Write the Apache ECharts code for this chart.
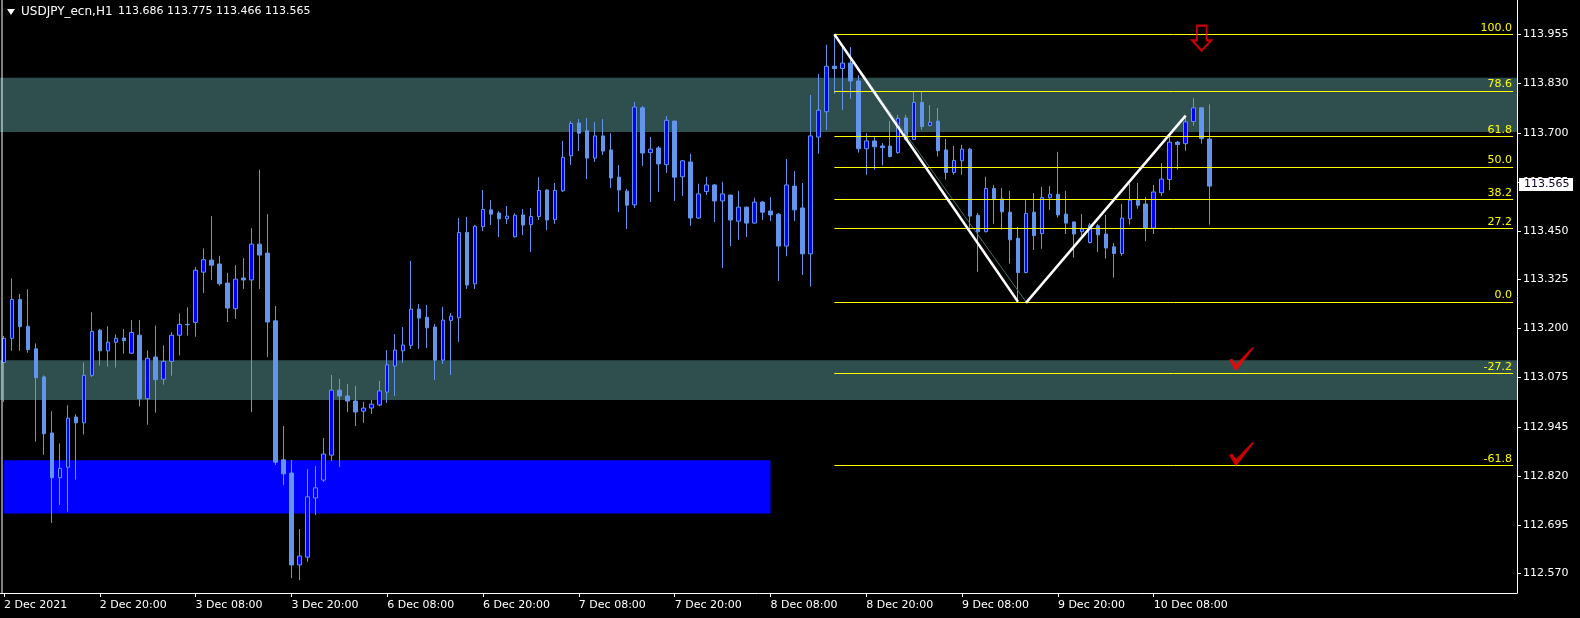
<!DOCTYPE html>
<html><head><meta charset="utf-8">
<script src="https://cdn.jsdelivr.net/npm/echarts@6/dist/echarts.min.js"></script>
<style>html,body{margin:0;padding:0;background:#000;overflow:hidden}#c{width:1580px;height:618px}</style>
</head><body><div id="c"></div>
<script>
const symbolName = 'USDJPY_ecn,H1';
const tickLabels = ['2 Dec 2021','2 Dec 20:00','3 Dec 08:00','3 Dec 20:00','6 Dec 08:00','6 Dec 20:00','7 Dec 08:00','7 Dec 20:00','8 Dec 08:00','8 Dec 20:00','9 Dec 08:00','9 Dec 20:00','10 Dec 08:00'];
const totalSlots = 190;
const open = [113.112,113.174,113.274,113.205,113.147,113.075,112.931,112.816,112.843,112.972,112.957,113.079,113.195,113.142,113.164,113.175,113.136,113.182,113.019,113.126,113.069,113.115,113.182,113.210,113.215,113.344,113.375,113.365,113.316,113.250,113.329,113.324,113.416,113.393,113.219,112.862,112.828,112.592,112.612,112.764,112.810,112.874,113.041,113.026,113.013,112.987,112.995,113.003,113.036,113.103,113.142,113.156,113.249,113.228,113.203,113.118,113.220,113.227,113.446,113.314,113.461,113.504,113.496,113.481,113.435,113.491,113.466,113.487,113.555,113.479,113.553,113.643,113.727,113.707,113.637,113.694,113.658,113.588,113.552,113.517,113.766,113.651,113.663,113.620,113.732,113.589,113.627,113.483,113.551,113.568,113.527,113.542,113.475,113.511,113.470,113.524,113.501,113.493,113.411,113.565,113.509,113.391,113.691,113.756,113.873,113.867,113.881,113.835,113.661,113.681,113.668,113.668,113.651,113.740,113.685,113.780,113.721,113.732,113.658,113.600,113.630,113.660,113.490,113.448,113.559,113.532,113.498,113.431,113.343,113.498,113.443,113.535,113.544,113.493,113.473,113.448,113.420,113.463,113.442,113.409,113.392,113.481,113.529,113.519,113.457,113.548,113.582,113.678,113.674,113.731,113.766,113.686];
const high = [113.180,113.328,113.288,113.300,113.161,113.079,112.987,112.904,113.002,112.979,113.112,113.241,113.198,113.205,113.184,113.198,113.221,113.221,113.143,113.207,113.156,113.190,113.238,113.254,113.357,113.405,113.488,113.386,113.342,113.362,113.380,113.457,113.607,113.493,113.257,112.949,112.862,112.684,112.838,112.846,112.918,113.080,113.070,113.057,113.052,113.011,113.016,113.065,113.144,113.185,113.203,113.373,113.262,113.260,113.211,113.255,113.239,113.483,113.486,113.465,113.555,113.529,113.501,113.514,113.495,113.506,113.509,113.588,113.557,113.573,113.681,113.732,113.737,113.740,113.730,113.737,113.701,113.619,113.558,113.781,113.771,113.691,113.668,113.745,113.733,113.632,113.648,113.571,113.589,113.570,113.576,113.543,113.553,113.512,113.535,113.527,113.537,113.496,113.635,113.604,113.573,113.799,113.853,113.928,113.955,113.922,113.922,113.850,113.701,113.691,113.676,113.732,113.748,113.748,113.807,113.807,113.773,113.766,113.686,113.668,113.671,113.663,113.496,113.589,113.568,113.560,113.553,113.460,113.529,113.547,113.563,113.565,113.653,113.553,113.474,113.493,113.470,113.468,113.491,113.419,113.519,113.571,113.573,113.537,113.568,113.624,113.691,113.681,113.743,113.791,113.768,113.775];
const low = [113.011,113.142,113.142,113.137,112.909,112.875,112.700,112.746,112.729,112.811,112.927,113.075,113.104,113.101,113.099,113.135,113.134,112.999,112.952,112.983,113.055,113.078,113.130,113.181,113.178,113.290,113.324,113.309,113.216,113.224,113.301,112.985,113.301,113.126,112.849,112.797,112.558,112.553,112.600,112.720,112.805,112.859,112.844,112.985,112.949,112.957,112.980,113.000,113.008,113.026,113.111,113.147,113.147,113.149,113.067,113.108,113.080,113.165,113.301,113.301,113.450,113.465,113.434,113.468,113.433,113.439,113.396,113.478,113.452,113.468,113.550,113.619,113.655,113.583,113.627,113.645,113.560,113.498,113.455,113.509,113.617,113.524,113.550,113.599,113.527,113.540,113.463,113.481,113.542,113.473,113.355,113.411,113.427,113.434,113.469,113.478,113.475,113.321,113.385,113.475,113.337,113.307,113.648,113.709,113.802,113.761,113.789,113.651,113.594,113.607,113.618,113.639,113.648,113.682,113.683,113.710,113.718,113.641,113.582,113.594,113.594,113.458,113.345,113.446,113.468,113.453,113.366,113.268,113.341,113.401,113.404,113.504,113.484,113.442,113.381,113.438,113.418,113.396,113.379,113.330,113.386,113.466,113.507,113.424,113.442,113.540,113.555,113.607,113.656,113.720,113.674,113.466];
const close = [113.174,113.274,113.204,113.145,113.073,112.929,112.816,112.840,112.969,112.957,113.079,113.192,113.142,113.164,113.174,113.168,113.189,113.019,113.123,113.068,113.115,113.182,113.210,113.209,113.349,113.376,113.362,113.314,113.252,113.326,113.324,113.416,113.388,113.216,112.856,112.826,112.592,112.615,112.767,112.790,112.877,113.041,113.026,113.013,112.985,112.995,113.005,113.039,113.106,113.144,113.157,113.249,113.226,113.201,113.118,113.221,113.231,113.446,113.311,113.462,113.505,113.493,113.481,113.488,113.490,113.465,113.487,113.554,113.478,113.554,113.639,113.726,113.701,113.637,113.694,113.655,113.586,113.555,113.516,113.768,113.650,113.660,113.622,113.734,113.588,113.630,113.483,113.545,113.568,113.527,113.545,113.478,113.511,113.470,113.524,113.498,113.491,113.411,113.568,113.504,113.391,113.694,113.760,113.873,113.867,113.881,113.835,113.661,113.681,113.666,113.664,113.641,113.739,113.685,113.780,113.718,113.729,113.656,113.600,113.631,113.660,113.488,113.448,113.559,113.532,113.499,113.427,113.343,113.495,113.438,113.536,113.544,113.491,113.470,113.442,113.455,113.465,113.440,113.406,113.392,113.483,113.529,113.516,113.457,113.550,113.583,113.678,113.672,113.730,113.766,113.687,113.565];
const yTicks = [113.955,113.830,113.700,113.575,113.450,113.325,113.200,113.075,112.945,112.820,112.695,112.570];
const currentPrice = 113.565;
const fibNames = ['100.0','78.6','61.8','50.0','38.2','27.2','0.0','-27.2','-61.8'];
const fibLevels = [113.955,113.809,113.693,113.614,113.531,113.457,113.268,113.084,112.847];
const fibStartBar = 104;
const fibDiagonal = [[104,113.955],[128,113.268]];
const trendDown = [[104,113.955],[127,113.268]];
const trendUp = [[128,113.265],[148,113.746]];
const zoneUpper = [113.8435,113.704];
const zoneLower = [113.118,113.016];
const zoneBlue = [112.861,112.724];
const zoneBlueBars = [0,96];
const arrowPoints = [[150,113.945]];
const checkPoints = [[155,113.121],[155,112.877]];

const FONT = 'DejaVu Sans';
const categories = Array.from({length: totalSlots}, (_, i) => String(i));
const candles = open.map((o, i) => [o, close[i], low[i], high[i]]);
const n = open.length;
const showTick = (i) => i % 12 === 0 && i / 12 < tickLabels.length;

const chart = echarts.init(document.getElementById('c'), null, {renderer: 'canvas'});
chart.setOption({
  backgroundColor: '#000',
  animation: false,
  grid: {left: 0, right: 63, top: 0, bottom: 25},
  xAxis: {
    type: 'category', data: categories, boundaryGap: true,
    axisLine: {show: true, lineStyle: {color: '#fff', width: 1}},
    axisTick: {show: true, alignWithLabel: true, interval: (i) => showTick(i), length: 4, lineStyle: {color: '#fff'}},
    axisLabel: {interval: (i) => showTick(i), align: 'left', color: '#fff', fontFamily: FONT, fontSize: 11, margin: 7,
      formatter: (v, i) => tickLabels[i / 12] || ''},
    splitLine: {show: false}
  },
  yAxis: {
    type: 'value', position: 'right', min: 112.520, max: 114.043, scale: true,
    axisLine: {show: true, lineStyle: {color: '#fff', width: 1}},
    axisTick: {show: true, length: 4, customValues: yTicks, lineStyle: {color: '#fff'}},
    axisLabel: {customValues: yTicks, color: '#fff', fontFamily: FONT, fontSize: 11, margin: 6, formatter: (v) => v.toFixed(3)},
    splitLine: {show: false}
  },
  graphic: [
    {type: 'line', shape: {x1: 2, y1: 0, x2: 2, y2: 593}, style: {stroke: '#fff', lineWidth: 1}, z: 100},
    {type: 'polygon', shape: {points: [[7, 9], [15, 9], [11, 15]]}, style: {fill: '#fff'}, z: 100},
    {type: 'text', left: 21, top: 6, style: {text: symbolName, fill: '#fff', font: '12px "DejaVu Sans"'}, z: 100},
    {type: 'text', left: 118, top: 6, style: {text: [open[n-1], high[n-1], low[n-1], close[n-1]].map(v => v.toFixed(3)).join(' '), fill: '#fff', font: '11px "DejaVu Sans"'}, z: 100}
  ],
  series: [
    {
      type: 'line', data: [], z: 1, silent: true,
      markArea: {
        silent: true,
        data: [
          [{yAxis: zoneUpper[0], itemStyle: {color: '#2f4f4f'}}, {yAxis: zoneUpper[1]}],
          [{yAxis: zoneLower[0], itemStyle: {color: '#2f4f4f'}}, {yAxis: zoneLower[1]}],
          [{xAxis: zoneBlueBars[0], yAxis: zoneBlue[0], itemStyle: {color: '#0000ff'}}, {xAxis: zoneBlueBars[1], yAxis: zoneBlue[1]}]
        ]
      }
    },
    {
      type: 'candlestick', data: candles, barWidth: 4, z: 3,
      itemStyle: {color: '#0000ff', color0: '#6495ed', borderColor: '#6495ed', borderColor0: '#6495ed', borderColorDoji: '#6495ed', borderWidth: 1}
    },
    {
      type: 'line', data: fibDiagonal, symbol: 'none', z: 4, silent: true,
      lineStyle: {color: '#456a6a', width: 1}
    },
    {
      type: 'line', data: [], z: 5, silent: true,
      markLine: {
        silent: true, symbol: ['none', 'none'],
        lineStyle: {color: '#ffff00', width: 1, type: 'solid'},
        label: {show: true, position: 'insideEndTop', color: '#ffff00', fontFamily: FONT, fontSize: 11, distance: [1, 1], formatter: (p) => p.name},
        data: fibLevels.map((v, i) => [{coord: [fibStartBar, v], name: fibNames[i]}, {coord: [totalSlots - 1, v]}])
      }
    },
    {type: 'line', data: trendDown, symbol: 'none', z: 7, silent: true, lineStyle: {color: '#fff', width: 2.5}},
    {type: 'line', data: trendUp, symbol: 'none', z: 7, silent: true, lineStyle: {color: '#fff', width: 2.5}},
    {
      type: 'scatter', data: arrowPoints, z: 8, silent: true,
      symbol: 'path://M5.3,0 L16,0 L16,15.7 L21,15.7 L10.5,26.7 L0,15.7 L5.3,15.7 Z',
      symbolSize: [19, 25],
      itemStyle: {color: 'rgba(0,0,0,0)', borderColor: '#ff0000', borderWidth: 2}
    },
    {
      type: 'scatter', data: checkPoints, z: 8, silent: true,
      symbol: 'path://M0,13 L3,11.5 L7,17 L23,0.5 L25,0 L24,2 L9.5,21 L6.5,24 Z',
      symbolSize: [25, 24],
      itemStyle: {color: '#ff0000'}
    }
  ]
});

// current price box on the price axis, positioned through the axis scale
const py = chart.convertToPixel({yAxisIndex: 0}, currentPrice);
const axisX = chart.getWidth() - 63;
chart.setOption({
  graphic: [
    {type: 'line', shape: {x1: 2, y1: 0, x2: 2, y2: 593}, style: {stroke: '#fff', lineWidth: 1}, z: 100},
    {type: 'polygon', shape: {points: [[7, 9], [15, 9], [11, 15]]}, style: {fill: '#fff'}, z: 100},
    {type: 'text', left: 21, top: 6, style: {text: symbolName, fill: '#fff', font: '12px "DejaVu Sans"'}, z: 100},
    {type: 'text', left: 118, top: 6, style: {text: [open[n-1], high[n-1], low[n-1], close[n-1]].map(v => v.toFixed(3)).join(' '), fill: '#fff', font: '11px "DejaVu Sans"'}, z: 100},
    {type: 'rect', shape: {x: axisX + 2, y: Math.round(py) - 8, width: 54, height: 13}, style: {fill: '#fff'}, z: 200},
    {type: 'text', x: axisX + 7, y: Math.round(py) - 1.5, style: {text: currentPrice.toFixed(3), fill: '#10002a', font: '11px "DejaVu Sans"', verticalAlign: 'middle'}, z: 201}
  ]
}, {replaceMerge: ['graphic']});
</script>
</body></html>
